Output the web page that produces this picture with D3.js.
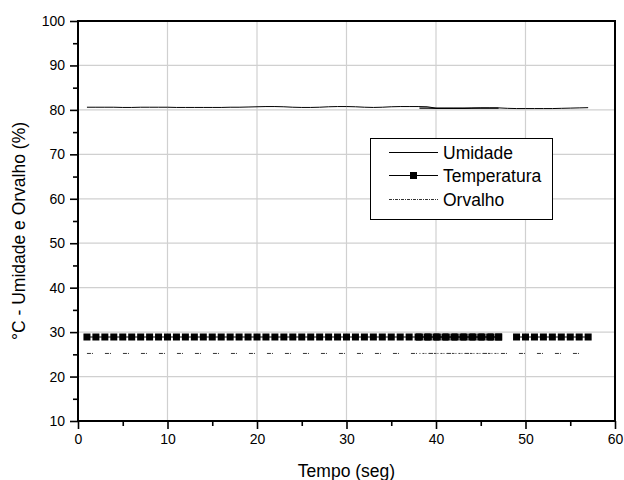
<!DOCTYPE html>
<html>
<head>
<meta charset="utf-8">
<script src="https://cdn.jsdelivr.net/npm/d3@7"></script>
<style>
  html, body { margin: 0; padding: 0; background: #fff; }
  svg { display: block; font-family: "Liberation Sans", Arial, sans-serif; }
</style>
</head>
<body>
<svg id="chart" width="624" height="480"></svg>
<script>
// ---- data ----
const tempo = [1,2,3,4,5,6,7,8,9,10,11,12,13,14,15,16,17,18,19,20,21,22,23,24,25,26,27,28,29,30,31,32,33,34,35,36,37,38,39,40,41,42,43,44,45,46,47,48,49,50,51,52,53,54,55,56,57];
const umidade = [80.6,80.6,80.6,80.6,80.55,80.55,80.6,80.6,80.6,80.6,
                 80.55,80.55,80.55,80.55,80.55,80.55,80.6,80.6,80.65,80.7,
                 80.75,80.75,80.7,80.6,80.55,80.55,80.6,80.7,80.75,80.75,
                 80.7,80.6,80.55,80.6,80.7,80.75,80.75,80.75,80.7,
                 80.4,80.4,80.4,80.4,80.4,80.45,80.45,80.45,
                 80.35,80.3,80.3,80.3,80.3,80.3,80.35,80.4,80.45,80.5];
const temperatura = [28.9,28.9,28.9,28.9,28.9,28.9,28.9,28.9,28.9,28.9,
                     28.9,28.9,28.9,28.9,28.9,28.9,28.9,28.9,28.9,28.9,
                     28.9,28.9,28.9,28.9,28.9,28.9,28.9,28.9,28.9,28.9,
                     28.9,28.9,28.9,28.9,28.9,28.9,28.9,28.9,28.9,
                     28.9,28.9,28.9,28.9,28.9,28.9,28.9,28.9,
                     null,28.9,28.9,28.9,28.9,28.9,28.9,28.9,28.9,28.9];
const orvalho = [25.2,25.2,25.2,25.2,25.2,25.2,25.2,25.2,25.2,25.2,
                 25.2,25.2,25.2,25.2,25.2,25.2,25.2,25.2,25.2,25.2,
                 25.2,25.2,25.2,25.2,25.2,25.2,25.2,25.2,25.2,25.2,
                 25.2,25.2,25.2,25.2,25.2,25.2,25.2,25.2,25.2,
                 25.2,25.2,25.2,25.2,25.2,25.2,25.2,25.2,
                 25.2,25.2,25.2,25.2,25.2,25.2,25.2,25.2,25.2,25.2];

// overlapping second run of readings (38 s to 47 s)
const tempoSobreposto = [38.15,39.15,40.15,41.15,42.15,43.15,44.15,45.15,46.15,47];
const umidadeSobreposta = [80.4,80.4,80.35,80.35,80.35,80.35,80.4,80.4,80.4,80.4];
const temperaturaSobreposta = [28.9,28.9,28.9,28.9,28.9,28.9,28.9,28.9,28.9,28.9];
const orvalhoSobreposto = [25.2,25.2,25.2,25.2,25.2,25.2,25.2,25.2,25.2,25.2];

const xTicks = [0,10,20,30,40,50,60];
const xMinorTicks = [5,15,25,35,45,55];
const yTicks = [10,20,30,40,50,60,70,80,90,100];
const yMinorTicks = [15,25,35,45,55,65,75,85,95];
const legendLabels = ["Umidade","Temperatura","Orvalho"];

// ---- layout ----
const svg = d3.select("#chart");
const x = d3.scaleLinear().domain([0,60]).range([78,615]);
const y = d3.scaleLinear().domain([10,100]).range([421,21]);

// grid
const grid = svg.append("g").attr("stroke","#d0d0d0").attr("stroke-width",1.2);
grid.selectAll(".gx").data(xTicks.slice(1,-1)).join("line")
  .attr("x1",d=>x(d)).attr("x2",d=>x(d)).attr("y1",y(10)).attr("y2",y(100));
grid.selectAll(".gy").data(yTicks.slice(1,-1)).join("line")
  .attr("x1",x(0)).attr("x2",x(60)).attr("y1",d=>y(d)).attr("y2",d=>y(d));

// series helpers
const rows = tempo.map((t,i)=>({t, u:umidade[i], te:temperatura[i], o:orvalho[i]}));
const rowsB = tempoSobreposto.map((t,i)=>({t, u:umidadeSobreposta[i], te:temperaturaSobreposta[i], o:orvalhoSobreposto[i]}));

const lineU = d3.line().x(d=>x(d.t)).y(d=>y(d.u));
const lineT = d3.line().defined(d=>d.te!=null).x(d=>x(d.t)).y(d=>y(d.te));
const lineO = d3.line().x(d=>x(d.t)).y(d=>y(d.o));

// Orvalho
svg.append("path").datum(rows).attr("d",lineO).attr("fill","none")
  .attr("stroke","#333").attr("stroke-width",1).attr("stroke-dasharray","4,1,1,12");
svg.append("path").datum(rowsB).attr("d",lineO).attr("fill","none")
  .attr("stroke","#444").attr("stroke-width",1).attr("stroke-dasharray","2,1,1,2")
  .attr("stroke-dashoffset",3);

// Umidade
svg.append("path").datum(rows).attr("d",lineU).attr("fill","none")
  .attr("stroke","#000").attr("stroke-width",1);
svg.append("path").datum(rowsB).attr("d",lineU).attr("fill","none")
  .attr("stroke","#000").attr("stroke-width",1.3);

// Temperatura
svg.append("path").datum(rows).attr("d",lineT).attr("fill","none")
  .attr("stroke","#000").attr("stroke-width",1);
svg.append("path").datum(rowsB).attr("d",lineT).attr("fill","none")
  .attr("stroke","#000").attr("stroke-width",1);
const sq = 7;
svg.append("g").selectAll("rect").data(rows.filter(d=>d.te!=null).concat(rowsB)).join("rect")
  .attr("x",d=>x(d.t)-sq/2).attr("y",d=>y(d.te)-sq/2)
  .attr("width",sq).attr("height",sq).attr("fill","#000");

// frame
svg.append("rect").attr("x",x(0)).attr("y",y(100)).attr("width",x(60)-x(0)).attr("height",y(10)-y(100))
  .attr("fill","none").attr("stroke","#000").attr("stroke-width",2);

// axes
const fmt = d3.format("d");
svg.append("g").attr("transform",`translate(0,${y(10)})`)
  .call(d3.axisBottom(x).tickValues(xTicks).tickSize(8).tickPadding(5).tickFormat(fmt));
svg.append("g").attr("transform",`translate(0,${y(10)})`)
  .call(d3.axisBottom(x).tickValues(xMinorTicks).tickSize(5).tickFormat(""));
svg.append("g").attr("transform",`translate(${x(0)},0)`)
  .call(d3.axisLeft(y).tickValues(yTicks).tickSize(8).tickPadding(5).tickFormat(fmt));
svg.append("g").attr("transform",`translate(${x(0)},0)`)
  .call(d3.axisLeft(y).tickValues(yMinorTicks).tickSize(5).tickFormat(""));
svg.selectAll(".domain").remove();
svg.selectAll(".tick line").attr("stroke","#000").attr("stroke-width",1.6);
svg.selectAll(".tick text").attr("font-family",'"Liberation Sans", Arial, sans-serif')
  .attr("font-size","14px").attr("fill","#000");

// axis titles
svg.append("text").attr("x",(x(0)+x(60))/2).attr("y",477).attr("text-anchor","middle")
  .attr("font-size","17.5px").attr("fill","#000").text("Tempo (seg)");
svg.append("text").attr("transform","translate(25,231) rotate(-90)").attr("text-anchor","middle")
  .attr("font-size","17.5px").attr("fill","#000").text("°C - Umidade e Orvalho (%)");

// legend
const lg = svg.append("g");
lg.append("rect").attr("x",370.5).attr("y",138.5).attr("width",182).attr("height",81)
  .attr("fill","#fff").attr("stroke","#000").attr("stroke-width",1);
const ly = [152.5,175.5,199.5];
lg.append("line").attr("x1",389).attr("x2",438).attr("y1",ly[0]).attr("y2",ly[0]).attr("stroke","#000").attr("stroke-width",1);
lg.append("line").attr("x1",389).attr("x2",438).attr("y1",ly[1]).attr("y2",ly[1]).attr("stroke","#000").attr("stroke-width",1);
lg.append("rect").attr("x",413.5-sq/2).attr("y",ly[1]-sq/2).attr("width",sq).attr("height",sq).attr("fill","#000");
lg.append("line").attr("x1",389).attr("x2",438).attr("y1",ly[2]).attr("y2",ly[2]).attr("stroke","#333").attr("stroke-width",1).attr("stroke-dasharray","3,1,1,1");
lg.selectAll("text").data(legendLabels).join("text")
  .attr("x",443).attr("y",(d,i)=>ly[i]+6).attr("font-size","17.5px").attr("fill","#000").text(d=>d);
</script>
</body>
</html>
